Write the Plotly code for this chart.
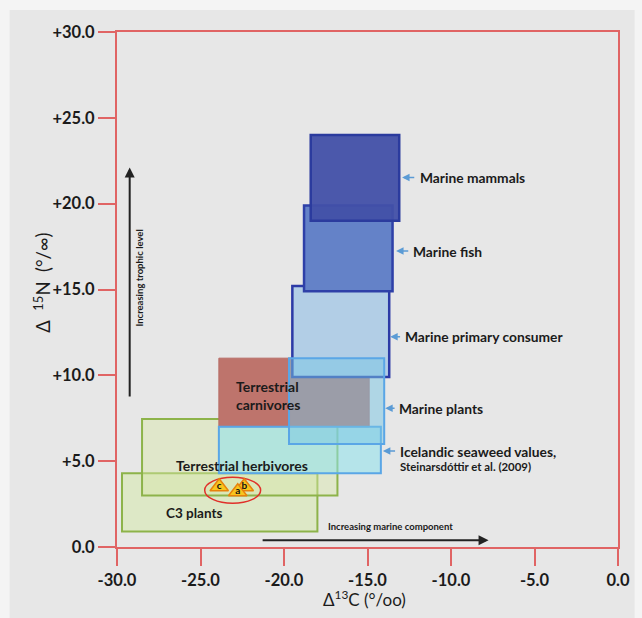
import plotly.graph_objects as go

# Isotope ranges for each food group: d13C (x) and d15N (y) extents
groups = ["C3 plants", "Terrestrial herbivores", "Terrestrial carnivores",
          "Icelandic seaweed", "Marine primary consumer", "Marine plants",
          "Marine fish", "Marine mammals"]
c13_min = [-29.7, -28.5, -23.9, -23.9, -19.5, -19.7, -18.8, -18.4]
c13_max = [-18.0, -16.8, -14.9, -14.2, -13.7, -14.0, -13.5, -13.1]
n15_min = [0.9, 3.0, 7.0, 4.3, 9.9, 6.0, 14.9, 19.0]
n15_max = [4.3, 7.45, 11.0, 7.0, 15.2, 11.0, 19.9, 24.0]
fills = ["rgba(214,234,172,0.55)", "rgba(214,230,166,0.45)", "rgb(190,116,108)",
         "rgba(140,226,236,0.55)", "rgb(178,206,230)", "rgba(120,198,228,0.5)",
         "rgb(100,130,200)", "rgba(66,80,168,0.95)"]
lines = ["#8db34a", "#8db34a", "#b86c66", "#5aa6e6", "#2c3aa6", "#5aa6e6",
         "#2e40a8", "#2b3b9e"]
widths = [2, 2, 1, 2, 2.5, 2, 2.5, 2.5]

# Sample points a, b, c
sample_labels = ["c", "b", "a"]
sample_c13 = [-23.88, -22.38, -22.77]
sample_n15 = [3.51, 3.51, 3.22]

# Right-hand labels with pointer arrows
side_labels = ["Marine mammals", "Marine fish", "Marine primary consumer",
               "Marine plants", "Icelandic seaweed values,"]
side_head_x = [-12.93, -13.29, -13.64, -13.94, -14.08]
side_tail_x = [-12.11, -12.47, -12.96, -13.29, -13.26]
side_text_x = [-11.99, -12.38, -12.87, -13.26, -13.16]
side_y = [21.53, 17.24, 12.25, 8.08, 5.59]

x_ticks = [-30, -25, -20, -15, -10, -5, 0]
x_ticktext = ["-30.0", "-25.0", "-20.0", "-15.0", "-10.0", "-5.0", "0.0"]
y_ticks = [0, 5, 10, 15, 20, 25, 30]
y_ticktext = ["0.0", "+5.0", "+10.0", "+15.0", "+20.0", "+25.0", "+30.0"]

FONT = "Lato"
TXT = "#1b1b1b"
RED = "#e06464"
BLUE_ARROW = "#5b9bd5"

W, H = 642, 618
ML, MR, MT, MB = 117, 12, 32, 71
pw, ph = W - ML - MR, H - MT - MB


def px_to_paper_x(px):
    return (px - ML) / pw


def px_to_paper_y(py):
    return (H - MB - py) / ph


fig = go.Figure()

shapes = []
# page background with a lighter outer strip
shapes.append(dict(type="rect", xref="paper", yref="paper",
                   x0=px_to_paper_x(7), x1=px_to_paper_x(W + 5),
                   y0=px_to_paper_y(H + 5), y1=px_to_paper_y(10),
                   fillcolor="#e7e7e7", line=dict(width=0), layer="below"))

for i in range(len(groups)):
    shapes.append(dict(type="rect", xref="x", yref="y",
                       x0=c13_min[i], x1=c13_max[i], y0=n15_min[i], y1=n15_max[i],
                       fillcolor=fills[i], line=dict(color=lines[i], width=widths[i]),
                       layer="below"))

# ring around the sample points
shapes.append(dict(type="circle", xref="x", yref="y",
                   x0=-24.75, x1=-21.4, y0=2.55, y1=4.06,
                   line=dict(color="#e0302a", width=1.5), layer="below"))

fig.add_trace(go.Scatter(
    x=sample_c13, y=sample_n15, mode="markers+text", text=sample_labels,
    textposition="middle center",
    textfont=dict(family=FONT, size=10, color="#111111", weight="bold"),
    marker=dict(symbol="triangle-up", size=16, color="#f7c51e",
                line=dict(color="#e8820c", width=1.5)),
    hoverinfo="skip", showlegend=False))

ann = []
# group labels inside the boxes
ann.append(dict(x=-23.0, y=8.85, xref="x", yref="y", text="<b>Terrestrial<br>carnivores</b>",
                showarrow=False, xanchor="left", align="left",
                font=dict(family=FONT, size=14, color=TXT)))
ann.append(dict(x=-22.49, y=4.72, xref="x", yref="y", text="<b>Terrestrial herbivores</b>",
                showarrow=False, font=dict(family=FONT, size=14, color=TXT)))
ann.append(dict(x=-27.19, y=1.96, xref="x", yref="y", text="<b>C3 plants</b>",
                showarrow=False, xanchor="left",
                font=dict(family=FONT, size=13.5, color=TXT)))

for i in range(len(side_labels)):
    ann.append(dict(x=side_head_x[i], y=side_y[i], ax=side_tail_x[i], ay=side_y[i],
                    xref="x", yref="y", axref="x", ayref="y", text="",
                    showarrow=True, arrowhead=2, arrowsize=1, arrowwidth=1.5,
                    arrowcolor=BLUE_ARROW))
    ann.append(dict(x=side_text_x[i], y=side_y[i], xref="x", yref="y",
                    text="<b>" + side_labels[i] + "</b>", showarrow=False,
                    xanchor="left", font=dict(family=FONT, size=13.8, color=TXT)))
ann.append(dict(x=-13.16, y=4.68, xref="x", yref="y",
                text="<b>Steinarsdóttir et al. (2009)</b>", showarrow=False,
                xanchor="left", font=dict(family=FONT, size=11.4, color=TXT)))

# trophic level arrow
ann.append(dict(x=-29.24, y=22.1, ax=-29.24, ay=8.68, xref="x", yref="y",
                axref="x", ayref="y", text="", showarrow=True, arrowhead=2,
                arrowsize=1, arrowwidth=2, arrowcolor="#222222"))
ann.append(dict(x=-28.71, y=15.67, xref="x", yref="y", text="<b>Increasing trophic level</b>",
                textangle=-90, showarrow=False,
                font=dict(family=FONT, size=9.5, color=TXT)))
# marine component arrow
ann.append(dict(x=-7.75, y=0.4, ax=-21.37, ay=0.4, xref="x", yref="y",
                axref="x", ayref="y", text="", showarrow=True, arrowhead=2,
                arrowsize=1, arrowwidth=2, arrowcolor="#222222"))
ann.append(dict(x=-13.6, y=0.75, xref="x", yref="y", text="<b>Increasing marine component</b>",
                showarrow=False, yanchor="bottom",
                font=dict(family=FONT, size=9.5, color=TXT)))

# axis titles
ann.append(dict(x=px_to_paper_x(25), y=px_to_paper_y(283), xref="paper", yref="paper",
                text="Δ  <sup>15</sup>N  (°/∞)", textangle=-90, showarrow=False,
                font=dict(family=FONT, size=18.5, color=TXT)))
ann.append(dict(x=px_to_paper_x(370), y=px_to_paper_y(612), xref="paper", yref="paper",
                text="Δ<sup>13</sup>C (°/oo)", showarrow=False,
                font=dict(family=FONT, size=17, color=TXT)))

axis_common = dict(showline=True, linecolor=RED, linewidth=2, mirror=True,
                   ticks="outside", ticklen=17, tickwidth=2, tickcolor=RED,
                   showgrid=False, zeroline=False,
                   tickfont=dict(family=FONT, size=16.5, color=TXT, weight="bold"))

fig.update_layout(
    width=W, height=H,
    margin=dict(l=ML, r=MR, t=MT, b=MB),
    paper_bgcolor="#f4f4f4", plot_bgcolor="rgba(0,0,0,0)",
    shapes=shapes, annotations=ann, showlegend=False,
    xaxis=dict(range=[-30, 0], tickvals=x_ticks, ticktext=x_ticktext, **axis_common),
    yaxis=dict(range=[0, 30], tickvals=y_ticks, ticktext=y_ticktext, **axis_common),
)

fig.write_html("out.html")
